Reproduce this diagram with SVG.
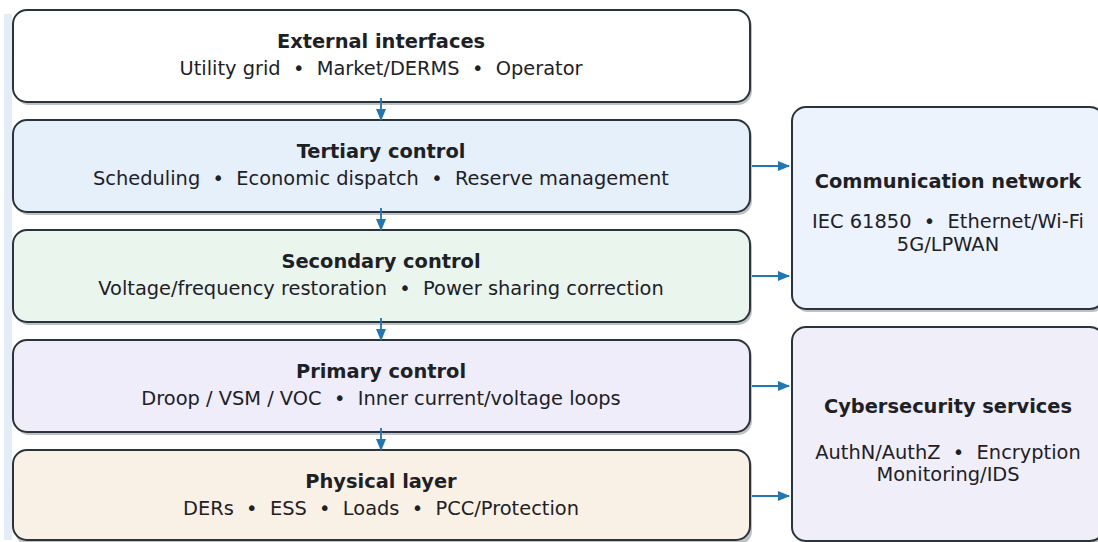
<svg xmlns="http://www.w3.org/2000/svg" width="1098" height="542" viewBox="0 0 1098 542">
<style>
.box{stroke:#2b333b;stroke-width:2}
.sh{fill:#8a8f94;opacity:0.55}
.t{font-family:"DejaVu Sans",sans-serif;font-size:19.4px;font-weight:bold;fill:#1d2126;text-anchor:middle}
.s{font-family:"DejaVu Sans",sans-serif;font-size:19.4px;fill:#1d2126;text-anchor:middle}
.c{stroke:#1f77b4;stroke-width:1.8;fill:none;marker-end:url(#ah)}
</style>
<defs>
<marker id="ah" markerWidth="12" markerHeight="12" refX="11" refY="6" orient="auto" markerUnits="userSpaceOnUse">
<path d="M0,1 L12,6 L0,11 Z" fill="#1f77b4"/>
</marker>
</defs>
<rect x="4" y="14" width="8" height="526" fill="#e3edf7"/>
<g id="external">
<rect class="sh" x="15" y="13" width="737" height="92" rx="14"/>
<rect class="box" x="13" y="10" width="737" height="92" rx="14" fill="#ffffff"/>
<text class="t" x="381" y="48">External interfaces</text>
<text class="s" x="381" y="75" xml:space="preserve">Utility grid  •  Market/DERMS  •  Operator</text>
</g>
<g id="tertiary">
<rect class="sh" x="15" y="123" width="737" height="92" rx="14"/>
<rect class="box" x="13" y="120" width="737" height="92" rx="14" fill="#e6f0fa"/>
<text class="t" x="381" y="158">Tertiary control</text>
<text class="s" x="381" y="185" xml:space="preserve">Scheduling  •  Economic dispatch  •  Reserve management</text>
</g>
<g id="secondary">
<rect class="sh" x="15" y="233" width="737" height="92" rx="14"/>
<rect class="box" x="13" y="230" width="737" height="92" rx="14" fill="#eaf5ee"/>
<text class="t" x="381" y="268">Secondary control</text>
<text class="s" x="381" y="295" xml:space="preserve">Voltage/frequency restoration  •  Power sharing correction</text>
</g>
<g id="primary">
<rect class="sh" x="15" y="343" width="737" height="92" rx="14"/>
<rect class="box" x="13" y="340" width="737" height="92" rx="14" fill="#efedf9"/>
<text class="t" x="381" y="378">Primary control</text>
<text class="s" x="381" y="405" xml:space="preserve">Droop / VSM / VOC  •  Inner current/voltage loops</text>
</g>
<g id="physical">
<rect class="sh" x="15" y="453" width="737" height="92" rx="14"/>
<rect class="box" x="13" y="450" width="737" height="90" rx="14" fill="#faf1e6"/>
<text class="t" x="381" y="488">Physical layer</text>
<text class="s" x="381" y="515" xml:space="preserve">DERs  •  ESS  •  Loads  •  PCC/Protection</text>
</g>
<g id="comm">
<rect class="sh" x="794" y="110" width="312" height="202" rx="14"/>
<rect class="box" x="792" y="107" width="312" height="202" rx="14" fill="#edf3fd"/>
<text class="t" x="948" y="188">Communication network</text>
<text class="s" x="948" y="228" xml:space="preserve">IEC 61850  •  Ethernet/Wi-Fi</text>
<text class="s" x="948" y="251">5G/LPWAN</text>
</g>
<g id="cyber">
<rect class="sh" x="794" y="330" width="312" height="214" rx="14"/>
<rect class="box" x="792" y="327" width="312" height="214" rx="14" fill="#f0eef9"/>
<text class="t" x="948" y="413">Cybersecurity services</text>
<text class="s" x="948" y="459" xml:space="preserve">AuthN/AuthZ  •  Encryption</text>
<text class="s" x="948" y="481">Monitoring/IDS</text>
</g>
<g id="connectors">
<line class="c" x1="381" y1="98" x2="381" y2="120"/>
<line class="c" x1="381" y1="208" x2="381" y2="230"/>
<line class="c" x1="381" y1="318" x2="381" y2="340"/>
<line class="c" x1="381" y1="428" x2="381" y2="450"/>
<line class="c" x1="752" y1="166" x2="789" y2="166"/>
<line class="c" x1="752" y1="276" x2="789" y2="276"/>
<line class="c" x1="752" y1="386" x2="789" y2="386"/>
<line class="c" x1="752" y1="496" x2="789" y2="496"/>
</g>
</svg>
